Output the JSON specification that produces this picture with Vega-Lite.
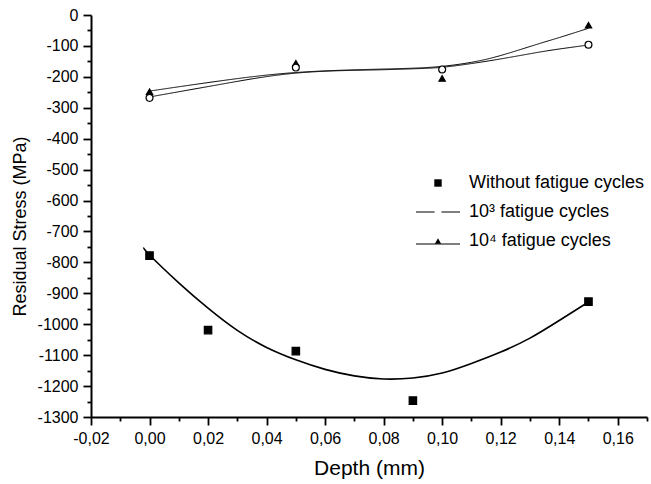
{
  "$schema": "https://vega.github.io/schema/vega-lite/v6.json",
  "width": 556,
  "height": 402,
  "autosize": "none",
  "padding": {"left": 91, "top": 15, "right": 4, "bottom": 67},
  "background": "white",
  "config": {
    "view": {"stroke": null},
    "font": "Liberation Sans",
    "axis": {
      "domainColor": "black",
      "domainWidth": 2,
      "tickColor": "black",
      "tickWidth": 1.8,
      "labelColor": "black",
      "labelFont": "Liberation Sans",
      "labelFontSize": 16,
      "titleColor": "black",
      "titleFont": "Liberation Sans",
      "titleFontWeight": "normal",
      "grid": false
    },
    "legend": {
      "title": null,
      "orient": "none",
      "direction": "vertical",
      "columns": 1,
      "padding": 0,
      "symbolStrokeWidth": 1,
      "symbolStrokeColor": "black",
      "labelFont": "Liberation Sans",
      "labelFontSize": 18,
      "labelColor": "black",
      "labelLimit": 400
    }
  },
  "datasets": {
    "points": [
      {"series": "Without fatigue cycles", "depth": 0.0, "stress": -778},
      {"series": "Without fatigue cycles", "depth": 0.02, "stress": -1019},
      {"series": "Without fatigue cycles", "depth": 0.05, "stress": -1087},
      {"series": "Without fatigue cycles", "depth": 0.09, "stress": -1247},
      {"series": "Without fatigue cycles", "depth": 0.15, "stress": -927},
      {"series": "10⁴  fatigue cycles", "depth": 0.0, "stress": -248},
      {"series": "10⁴  fatigue cycles", "depth": 0.05, "stress": -156},
      {"series": "10⁴  fatigue cycles", "depth": 0.10, "stress": -205},
      {"series": "10⁴  fatigue cycles", "depth": 0.15, "stress": -33},
      {"series": "10³  fatigue  cycles", "depth": 0.0, "stress": -268},
      {"series": "10³  fatigue  cycles", "depth": 0.05, "stress": -170},
      {"series": "10³  fatigue  cycles", "depth": 0.10, "stress": -176},
      {"series": "10³  fatigue  cycles", "depth": 0.15, "stress": -96}
    ],
    "curves": [
      {"series": "Without fatigue cycles", "depth": -0.002, "stress": -752},
      {"series": "Without fatigue cycles", "depth": 0.0, "stress": -776},
      {"series": "Without fatigue cycles", "depth": 0.01, "stress": -866},
      {"series": "Without fatigue cycles", "depth": 0.02, "stress": -948},
      {"series": "Without fatigue cycles", "depth": 0.03, "stress": -1020},
      {"series": "Without fatigue cycles", "depth": 0.04, "stress": -1075},
      {"series": "Without fatigue cycles", "depth": 0.05, "stress": -1115},
      {"series": "Without fatigue cycles", "depth": 0.06, "stress": -1146},
      {"series": "Without fatigue cycles", "depth": 0.07, "stress": -1167},
      {"series": "Without fatigue cycles", "depth": 0.08, "stress": -1177},
      {"series": "Without fatigue cycles", "depth": 0.09, "stress": -1174},
      {"series": "Without fatigue cycles", "depth": 0.10, "stress": -1158},
      {"series": "Without fatigue cycles", "depth": 0.11, "stress": -1127},
      {"series": "Without fatigue cycles", "depth": 0.12, "stress": -1090},
      {"series": "Without fatigue cycles", "depth": 0.13, "stress": -1045},
      {"series": "Without fatigue cycles", "depth": 0.14, "stress": -988},
      {"series": "Without fatigue cycles", "depth": 0.15, "stress": -928},
      {"series": "10³  fatigue  cycles", "depth": 0.0, "stress": -265},
      {"series": "10³  fatigue  cycles", "depth": 0.025, "stress": -223},
      {"series": "10³  fatigue  cycles", "depth": 0.05, "stress": -188},
      {"series": "10³  fatigue  cycles", "depth": 0.075, "stress": -178},
      {"series": "10³  fatigue  cycles", "depth": 0.09, "stress": -174},
      {"series": "10³  fatigue  cycles", "depth": 0.10, "stress": -169},
      {"series": "10³  fatigue  cycles", "depth": 0.11, "stress": -157},
      {"series": "10³  fatigue  cycles", "depth": 0.12, "stress": -142},
      {"series": "10³  fatigue  cycles", "depth": 0.132, "stress": -122},
      {"series": "10³  fatigue  cycles", "depth": 0.14, "stress": -110},
      {"series": "10³  fatigue  cycles", "depth": 0.15, "stress": -97},
      {"series": "10⁴  fatigue cycles", "depth": 0.0, "stress": -246},
      {"series": "10⁴  fatigue cycles", "depth": 0.025, "stress": -212},
      {"series": "10⁴  fatigue cycles", "depth": 0.05, "stress": -186},
      {"series": "10⁴  fatigue cycles", "depth": 0.075, "stress": -176},
      {"series": "10⁴  fatigue cycles", "depth": 0.09, "stress": -172},
      {"series": "10⁴  fatigue cycles", "depth": 0.10, "stress": -166},
      {"series": "10⁴  fatigue cycles", "depth": 0.11, "stress": -153},
      {"series": "10⁴  fatigue cycles", "depth": 0.12, "stress": -131},
      {"series": "10⁴  fatigue cycles", "depth": 0.132, "stress": -96},
      {"series": "10⁴  fatigue cycles", "depth": 0.14, "stress": -73},
      {"series": "10⁴  fatigue cycles", "depth": 0.15, "stress": -43}
    ]
  },
  "encoding": {
    "x": {
      "field": "depth",
      "type": "quantitative",
      "scale": {"domain": [-0.02, 0.17], "nice": false, "zero": false},
      "axis": {
        "title": "Depth (mm)",
        "titleFontSize": 21,
        "titleBaseline": "alphabetic",
        "titleY": 57,
        "values": [-0.02, -0.01, 0, 0.01, 0.02, 0.03, 0.04, 0.05, 0.06, 0.07, 0.08, 0.09, 0.1, 0.11, 0.12, 0.13, 0.14, 0.15, 0.16, 0.17],
        "labelExpr": "abs(round(datum.value*100)) % 2 == 1 ? '' : replace(replace(format(datum.value, '.2f'), '.', ','), '−', '-')",
        "tickSize": {"condition": {"test": "abs(round(datum.value*100)) % 2 == 1", "value": 4}, "value": 8},
        "labelPadding": 5,
        "labelFlush": false,
        "labelOverlap": false
      }
    },
    "y": {
      "field": "stress",
      "type": "quantitative",
      "scale": {"domain": [-1300, 0], "nice": false, "zero": false},
      "axis": {
        "title": "Residual Stress (MPa)",
        "titleFontSize": 18,
        "titleAngle": -90,
        "titleBaseline": "alphabetic",
        "titleAlign": "center",
        "titleX": -66,
        "titleY": 211,
        "values": [-1300, -1250, -1200, -1150, -1100, -1050, -1000, -950, -900, -850, -800, -750, -700, -650, -600, -550, -500, -450, -400, -350, -300, -250, -200, -150, -100, -50, 0],
        "labelExpr": "datum.value % 100 != 0 ? '' : replace(format(datum.value, 'd'), '−', '-')",
        "tickSize": {"condition": {"test": "datum.value % 100 != 0", "value": 4}, "value": 8},
        "labelPadding": 5,
        "labelFlush": false,
        "labelOverlap": false
      }
    }
  },
  "layer": [
    {
      "data": {"name": "curves"},
      "transform": [{"filter": "datum.series === 'Without fatigue cycles'"}],
      "mark": {"type": "line", "interpolate": "natural", "color": "black", "strokeWidth": 1.6},
      "encoding": {"detail": {"field": "series", "type": "nominal"}}
    },
    {
      "data": {"name": "curves"},
      "transform": [{"filter": "datum.series !== 'Without fatigue cycles'"}],
      "mark": {"type": "line", "interpolate": "natural", "color": "black", "strokeWidth": 1},
      "encoding": {
        "strokeDash": {
          "field": "series",
          "type": "nominal",
          "scale": {"domain": ["10³  fatigue  cycles", "10⁴  fatigue cycles"], "range": [[1, 0], [1, 0]]},
          "legend": {
            "legendX": 324.5,
            "legendY": 174.5,
            "rowPadding": -3,
            "symbolSize": 1936,
            "symbolType": "stroke",
            "labelOffset": 8.5,
            "labelColor": "transparent"
          }
        }
      }
    },
    {
      "data": {"name": "points"},
      "mark": {"type": "point", "filled": true, "opacity": 1, "stroke": "black", "strokeWidth": 1.2},
      "encoding": {
        "shape": {
          "field": "series",
          "type": "nominal",
          "scale": {"domain": ["Without fatigue cycles", "10³  fatigue  cycles", "10⁴  fatigue cycles"], "range": ["square", "circle", "triangle-up"]},
          "legend": {
            "legendX": 338,
            "legendY": 159,
            "rowPadding": 11,
            "labelOffset": 22,
            "encode": {
              "symbols": {
                "stroke": {"value": "black"},
                "strokeWidth": {"value": 1},
                "opacity": {"value": 1}
              }
            }
          }
        },
        "fill": {
          "field": "series",
          "type": "nominal",
          "scale": {"domain": ["Without fatigue cycles", "10³  fatigue  cycles", "10⁴  fatigue cycles"], "range": ["black", "white", "black"]},
          "legend": {
            "legendX": 338,
            "legendY": 159,
            "rowPadding": 11,
            "labelOffset": 22,
            "encode": {
              "symbols": {
                "stroke": {"value": "black"},
                "strokeWidth": {"value": 1},
                "opacity": {"value": 1}
              }
            }
          }
        },
        "size": {
          "field": "series",
          "type": "nominal",
          "scale": {"domain": ["Without fatigue cycles", "10³  fatigue  cycles", "10⁴  fatigue cycles"], "range": [55, 40, 95]},
          "legend": {
            "legendX": 338,
            "legendY": 159,
            "rowPadding": 11,
            "labelOffset": 22,
            "encode": {
              "symbols": {
                "stroke": {"value": "black"},
                "strokeWidth": {"value": 1},
                "opacity": {"value": 1}
              }
            }
          }
        }
      }
    }
  ]
}
